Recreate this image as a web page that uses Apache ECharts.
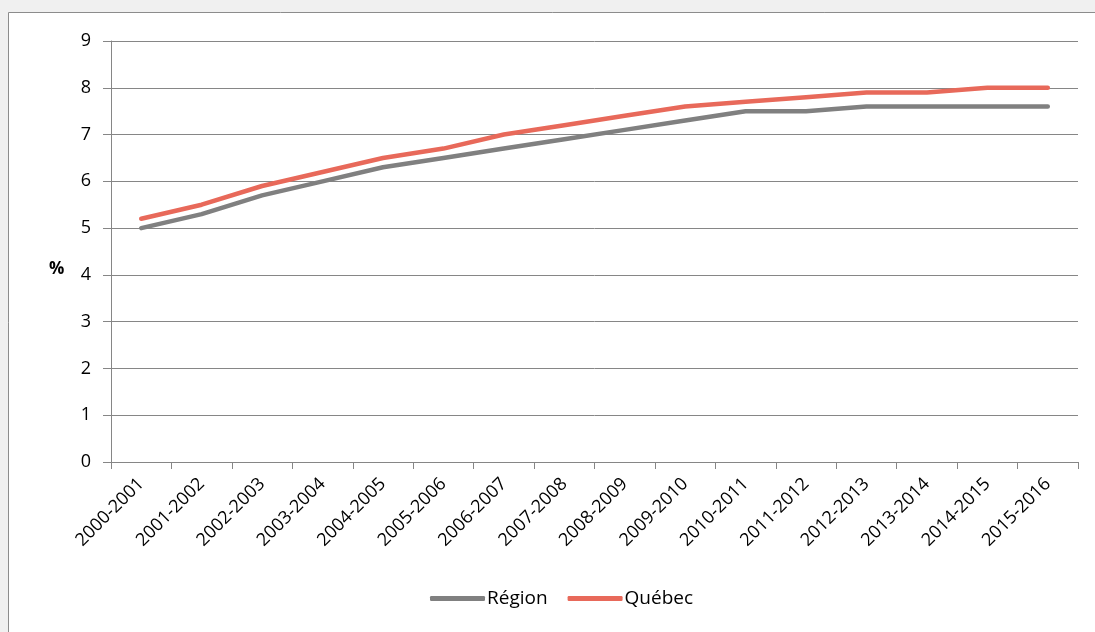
<!DOCTYPE html>
<html>
<head>
<meta charset="utf-8">
<script src="https://cdn.jsdelivr.net/npm/echarts@6/dist/echarts.min.js"></script>
<style>
  html, body { margin: 0; padding: 0; background: #f0f0f0; }
  #chart { width: 1095px; height: 632px; }
</style>
</head>
<body>
<div id="chart"></div>
<script>
const years = [
  "2000-2001", "2001-2002", "2002-2003", "2003-2004", "2004-2005", "2005-2006",
  "2006-2007", "2007-2008", "2008-2009", "2009-2010", "2010-2011", "2011-2012",
  "2012-2013", "2013-2014", "2014-2015", "2015-2016"
];
const region = [5.0, 5.3, 5.7, 6.0, 6.3, 6.5, 6.7, 6.9, 7.1, 7.3, 7.5, 7.5, 7.6, 7.6, 7.6, 7.6];
const quebec = [5.2, 5.5, 5.9, 6.2, 6.5, 6.7, 7.0, 7.2, 7.4, 7.6, 7.7, 7.8, 7.9, 7.9, 8.0, 8.0];

const font = "'Open Sans', 'Noto Sans', sans-serif";
const axisGrey = "#868686";

const chart = echarts.init(document.getElementById("chart"));

chart.setOption({
  animation: false,
  backgroundColor: "#f0f0f0",
  textStyle: { fontFamily: font },
  graphic: [
    {
      type: "rect",
      z: -10,
      shape: { x: 8.5, y: 12.5, width: 1200, height: 700 },
      style: { fill: "#ffffff", stroke: "#8c8c8c", lineWidth: 1 }
    },
    {
      type: "text",
      left: 49,
      top: 261,
      style: { text: "%", font: "bold 17px " + font, fill: "#000" }
    }
  ],
  grid: { left: 111, right: 17, top: 41, bottom: 170 },
  legend: {
    bottom: 19,
    left: 425,
    itemWidth: 55,
    itemHeight: 5,
    itemGap: 20,
    icon: "roundRect",
    textStyle: { fontSize: 19, color: "#000", padding: [0, 0, 0, -3] },
    data: ["Région", "Québec"]
  },
  xAxis: {
    type: "category",
    data: years,
    boundaryGap: true,
    axisLine: { lineStyle: { color: axisGrey, width: 1 } },
    axisTick: { show: true, length: 7, lineStyle: { color: axisGrey } },
    axisLabel: { rotate: 45, fontSize: 18, color: "#000", margin: 19, interval: 0 }
  },
  yAxis: {
    type: "value",
    min: 0,
    max: 9,
    interval: 1,
    axisLine: { show: true, lineStyle: { color: axisGrey, width: 1 } },
    axisTick: { show: true, length: 8, lineStyle: { color: axisGrey } },
    axisLabel: { fontSize: 18, color: "#000", margin: 20 },
    splitLine: { lineStyle: { color: axisGrey, width: 1 } }
  },
  series: [
    {
      name: "Région",
      type: "line",
      data: region,
      symbol: "none",
      color: "#808080",
      lineStyle: { width: 4.5, color: "#808080", cap: "round" }
    },
    {
      name: "Québec",
      type: "line",
      data: quebec,
      symbol: "none",
      color: "#e8695a",
      lineStyle: { width: 4.5, color: "#e8695a", cap: "round" }
    }
  ]
});
</script>
</body>
</html>
